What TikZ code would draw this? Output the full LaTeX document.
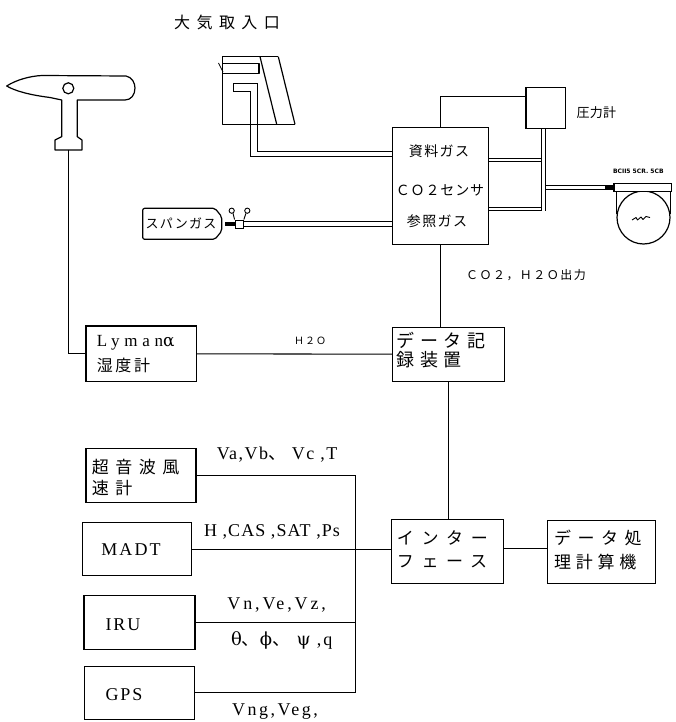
\documentclass[tikz,border=0pt]{standalone}
\usepackage{fontspec}
\setmainfont{Liberation Serif}
\newfontfamily\jpfont{Noto Sans CJK JP}
\newfontfamily\serfont{Liberation Serif}
\newfontfamily\grkfont{DejaVu Serif}
\newfontfamily\tagfont{DejaVu Sans}
\usetikzlibrary{calc}
% size, letter spacing, text
\newcommand\JPtext[3]{{\jpfont\fontsize{#1}{#1}\selectfont\addfontfeature{LetterSpace=#2}#3}}
\newcommand\SERtext[3]{{\serfont\fontsize{#1}{#1}\selectfont\addfontfeature{LetterSpace=#2}#3}}
\newcommand\tenten{{\jpfont 、}}
\newcommand\grk[1]{{\grkfont #1}}
\begin{document}
\begin{tikzpicture}[x=1pt,y=-1pt,
  box/.style={draw,line width=1.1pt,inner sep=0pt},
  wire/.style={line width=1.05pt},
  pipe/.style={line width=0.9pt},
  outline/.style={line width=1.2pt,line join=round},
  lbl/.style={inner sep=0pt}]
\fill[white] (0,0) rectangle (675,722);
\useasboundingbox (0,0) rectangle (675,722);

% ---------- boxes ----------
\node[box,minimum width=96pt,minimum height=116.7pt] (sensor) at (440.3,185.7) {};
\node[box,minimum width=39.7pt,minimum height=41pt] (gauge) at (545.8,107.8) {};
\node[box,minimum width=110.7pt,minimum height=55.7pt] (lyman) at (141.3,353.8) {};
\node[box,minimum width=111.7pt,minimum height=53.7pt] (rec) at (448.2,354.2) {};
\node[box,minimum width=111.6pt,minimum height=64pt] (iface) at (447.5,551.3) {};
\node[box,minimum width=107.7pt,minimum height=62.6pt] (proc) at (601.2,552) {};
\node[box,minimum width=110pt,minimum height=54.4pt] (anemo) at (141,475.5) {};
\node[box,minimum width=108.3pt,minimum height=53pt] (madt) at (136.9,549.2) {};
\node[box,minimum width=111pt,minimum height=54.3pt] (iru) at (139.5,622.2) {};
\node[box,minimum width=110.3pt,minimum height=53.3pt] (gps) at (139.2,692.7) {};

% ---------- box texts ----------
\node[lbl] (tSample) at (439,151.7) {\JPtext{14}{10}{資料ガス}};
\node[lbl] (tSensor) at (440,190) {\JPtext{14}{6}{ＣＯ２センサ}};
\node[lbl] (tRef) at (437,221.7) {\JPtext{14}{10}{参照ガス}};
\node[lbl] (tGauge) at (596.3,112.7) {\JPtext{13}{2}{圧力計}};
\node[lbl,anchor=west] (tLy1) at (96.7,343) {\SERtext{17}{28}{Lyman\grk{α}}};
\node[lbl,anchor=west] (tLy2) at (96.7,365) {\JPtext{16}{16}{湿度計}};
\node[lbl,anchor=west] (tRec1) at (396.7,340) {\JPtext{18}{30}{データ記}};
\node[lbl,anchor=west] (tRec2) at (396.7,359.5) {\JPtext{18}{30}{録装置}};
\node[lbl,anchor=west] (tIf1) at (396.7,538) {\JPtext{17}{45}{インター}};
\node[lbl,anchor=west] (tIf2) at (396.7,561.7) {\JPtext{17}{45}{フェース}};
\node[lbl,anchor=west] (tPr1) at (554,538) {\JPtext{17}{38}{データ処}};
\node[lbl,anchor=west] (tPr2) at (554,561.7) {\JPtext{17}{28}{理計算機}};
\node[lbl,anchor=west] (tAn1) at (91.7,466.7) {\JPtext{17}{38}{超音波風}};
\node[lbl,anchor=west] (tAn2) at (91.7,488.3) {\JPtext{17}{38}{速計}};
\node[lbl] (tMadt) at (131,550) {\SERtext{18}{12}{MADT}};
\node[lbl] (tIru) at (123,625) {\SERtext{18}{10}{IRU}};
\node[lbl] (tGps) at (124,695) {\SERtext{18}{10}{GPS}};

% ---------- free labels ----------
\node[lbl] (title) at (227,22) {\JPtext{16}{40}{大気取入口}};
\node[lbl] (lH2O) at (310,341) {\JPtext{10}{10}{Ｈ２Ｏ}};
\node[lbl] (lOut) at (526,275) {\JPtext{12}{12}{ＣＯ２，Ｈ２Ｏ出力}};
\node[lbl] (lAn) at (277,455) {\SERtext{18}{8}{Va,Vb\tenten\ Vc ,T}};
\node[lbl] (lMadt) at (272,531.7) {\SERtext{18}{6}{H ,CAS ,SAT ,Ps}};
\node[lbl] (lIru1) at (276.7,605) {\SERtext{18}{16}{Vn,Ve,Vz,}};
\node[lbl] (lIru2) at (281.7,640.7) {\SERtext{18}{10}{\grk{θ}\tenten\grk{ϕ}\tenten\ \grk{ψ} ,q}};
\node[lbl] (lGps) at (275,711.7) {\SERtext{18}{14}{Vng,Veg,}};

% ---------- antenna ----------
\draw[outline] (6.7,86) .. controls (16,80) and (30,76) .. (42,75.5) -- (126,76)
  .. controls (132,77) and (135,83) .. (135,88) .. controls (135,95) and (131,100) .. (125,100)
  -- (77.3,100) -- (77.3,136.7) -- (82,140) -- (82,150) -- (55,150) -- (55,140)
  -- (61.7,136.7) -- (61.7,100) -- (50,97.5) .. controls (30,95) and (15,91) .. cycle;
\draw[line width=1.2pt] (68.3,88.3) circle (5.5);
\coordinate (antfoot) at (68.3,150);

% ---------- air intake ----------
\draw[outline] (278.3,56.7) -- (222.7,56.7) -- (222.7,124.3) -- (295,124.3);
\draw[outline] (260,56.7) -- (276.7,124.3);
\draw[outline] (278.3,56.7) -- (295,124.3);
\draw[outline] (222.7,63.3) -- (259,63.3) -- (259,73.3) -- (222.7,73.3);
\draw[line width=0.8pt] (218.5,63) -- (223,72);
\draw[pipe] (sensor.west |- 0,151) -- (257.3,151) -- (257.3,83.3) -- (233.3,83.3)
  -- (233.3,91.7) -- (250.5,91.7) -- (250.5,156) -- (sensor.west |- 0,156);

% ---------- span gas ----------
\draw[outline,rounded corners=2pt] (142.7,208.3) -- (215,208.3) -- (221.7,216.7)
  -- (221.7,231) -- (215,239.3) -- (142.7,239.3) -- cycle;
\node[lbl] (tSpan) at (181,223.3) {\JPtext{13}{10}{スパンガス}};
\node[fill=black,inner sep=0pt,minimum width=10pt,minimum height=4.3pt] (sconn) at (230,223.9) {};
\node[draw,line width=1pt,fill=white,inner sep=0pt,minimum width=8.3pt,minimum height=8pt] (valve) at (239.2,224) {};
\draw[line width=0.9pt] (231.7,210.7) circle (2.6) (247.3,210.7) circle (2.6);
\draw[line width=0.9pt] (233,213.2) -- (valve.north west) (246,213.2) -- (valve.north east);
\draw[pipe] (valve.east |- 0,221.7) -- (sensor.west |- 0,221.7);
\draw[pipe] (valve.east |- 0,226) -- (sensor.west |- 0,226);

% ---------- outlet manifold and pump ----------
\coordinate (mL) at (541.7,0);
\coordinate (mR) at (545.7,0);
\draw[pipe] (sensor.east |- 0,158.3) -- (mL |- 0,158.3);
\draw[pipe] (sensor.east |- 0,161.3) -- (mL |- 0,161.3);
\draw[pipe] (sensor.east |- 0,207.7) -- (mL |- 0,207.7);
\draw[pipe] (sensor.east |- 0,210.5) -- (mL |- 0,210.5);
\draw[pipe] (mL |- gauge.south) -- (mL |- 0,210.5);
\draw[pipe] (mR |- gauge.south) -- (mR |- 0,210.5);

\draw[line width=1.2pt] (643.5,217.5) circle (26.5);
\draw[line width=1pt] (616.5,191) -- (616.5,214) (670.5,191) -- (670.5,214);
\node[draw,line width=1.1pt,fill=white,inner sep=0pt,minimum width=57.7pt,minimum height=8pt] (phead) at (642.8,187.2) {};
\node[fill=black,inner sep=0pt,minimum width=9pt,minimum height=5pt] (pconn) at (609.5,187.5) {};
\draw[pipe] (mR |- 0,185) -- (pconn.west |- 0,185);
\draw[pipe] (mR |- 0,189.5) -- (pconn.west |- 0,189.5);
\node[lbl] (pumpTag) at (638.3,171) {\tagfont\bfseries\fontsize{6}{6}\selectfont BCII5 5CR. 5CB};
\draw[line width=0.9pt,line join=round] (632,220) -- (636,217.5) -- (637.5,220) -- (641,217)
  -- (643,219.5) -- (646,216.5) -- (650,217.5);

% ---------- signal wiring ----------
\draw[wire] (sensor.north) |- ([yshift=11pt]gauge.west);
\draw[wire] (sensor.south) -- (sensor.south |- rec.north);
\draw[wire] (antfoot) |- (lyman.west);
\draw[wire] (lyman) -- (rec);
\draw[wire] (rec.south) -- (rec.south |- iface.north);
\draw[wire] ([yshift=3pt]iface.east) -- ([yshift=3pt]iface.east -| proc.west);
\coordinate (bus) at (355.7,0);
\draw[wire] (anemo.east) -| (bus |- gps.east) -- (gps.east);
\draw[wire] (madt.east) -- (madt.east -| iface.west);
\draw[wire] (iru.east) -- (iru.east -| bus);
\end{tikzpicture}
\end{document}
